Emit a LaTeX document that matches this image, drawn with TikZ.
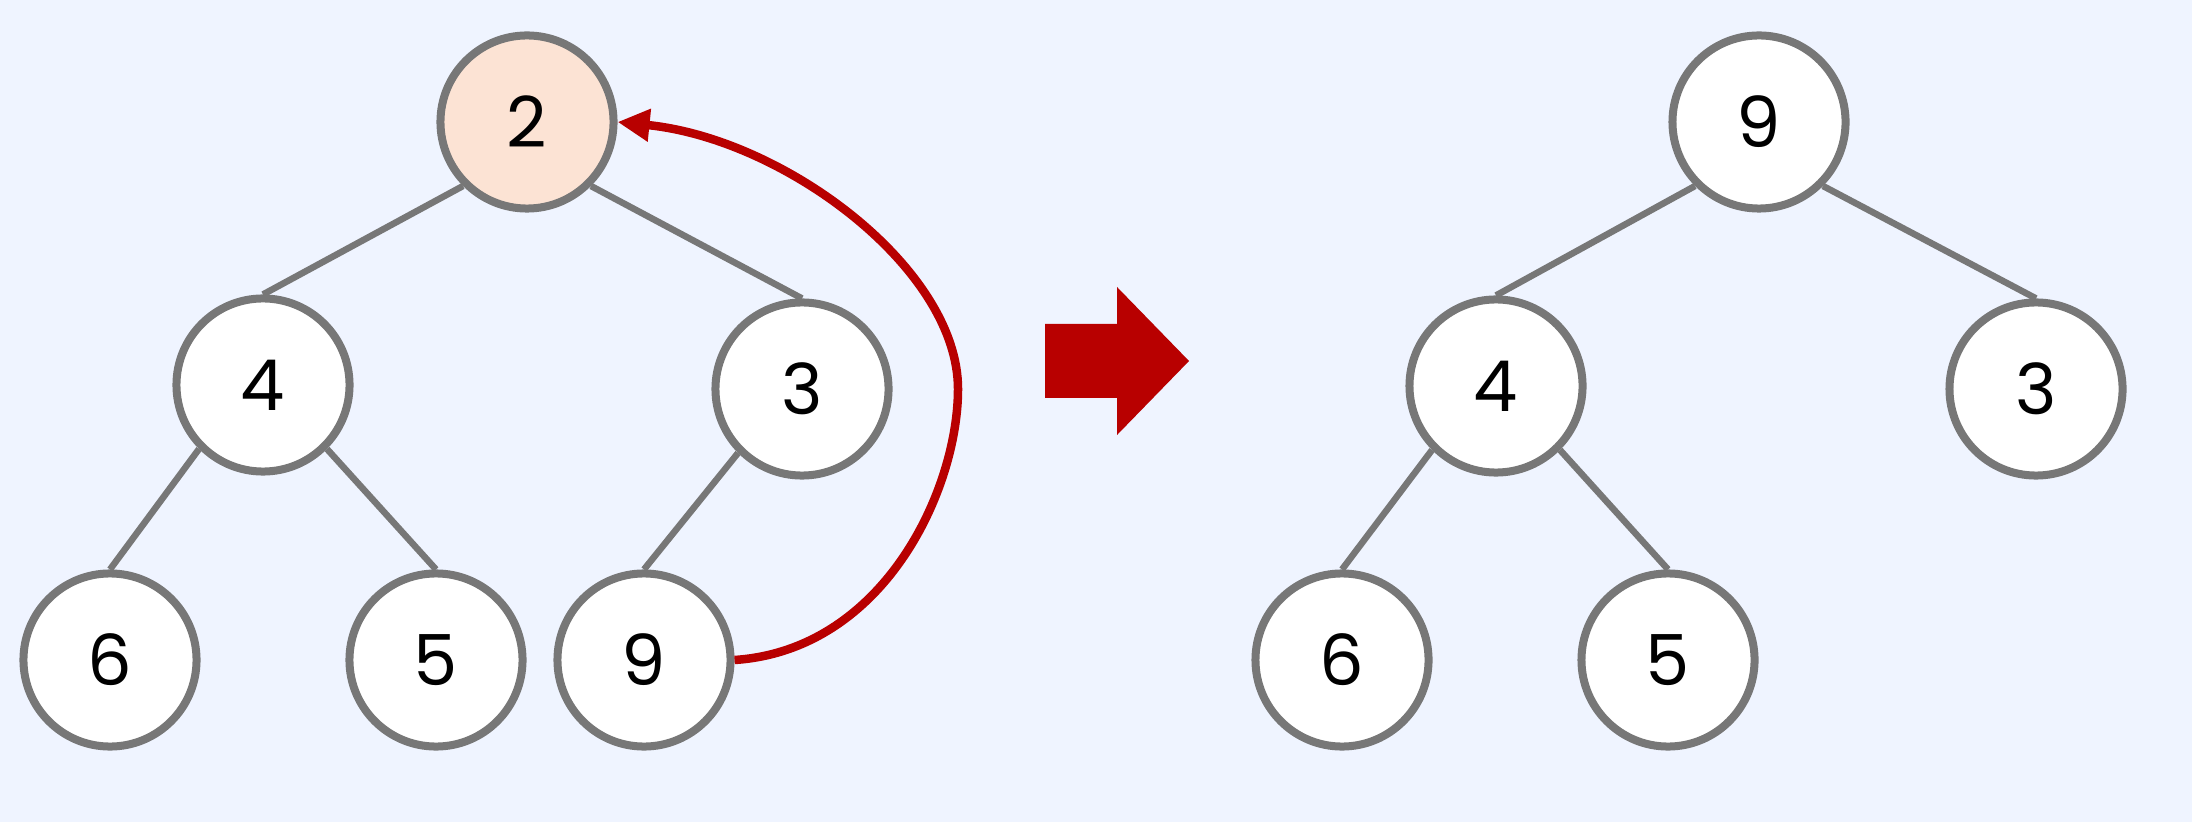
\documentclass[tikz,border=0pt]{standalone}
\usepackage{fontspec}
\setmainfont{Poppins}
\usepackage{xcolor}
\usetikzlibrary{positioning,arrows.meta}
\definecolor{bgblue}{HTML}{EFF4FF}
\definecolor{ringgray}{HTML}{777777}
\definecolor{swapred}{HTML}{B80000}
\definecolor{peach}{HTML}{FCE3D4}

\begin{document}
\begin{tikzpicture}[x=0.01cm,y=-0.01cm,
            heapnode/.style={circle,draw=ringgray,fill=white,line width=0.08cm,minimum size=1.73cm,inner sep=0pt,font=\fontsize{20}{24}\selectfont},
            edge/.style={draw=ringgray,line width=0.065cm},
            arrow/.style={-{Triangle[length=0.32cm,width=0.31cm]},draw=swapred,line width=0.085cm}]
            \fill[bgblue] (0,0) rectangle (2192,822);
            \useasboundingbox (0,0) rectangle (2192,822);
            % before
            \node[heapnode,fill=peach] (l2) at (527,122) {2};
            \node[heapnode] (l4) at (263,385) {4};
            \node[heapnode] (l3) at (802,389) {3};
            \node[heapnode] (l6) at (110,660) {6};
            \node[heapnode] (l5) at (436,660) {5};
            \node[heapnode] (l9) at (644,660) {9};
            \draw[edge] (l2.south west)--(l4.north);
            \draw[edge] (l2.south east)--(l3.north);
            \draw[edge] (l4.south west)--(l6.north);
            \draw[edge] (l4.south east)--(l5.north);
            \draw[edge] (l3.south west)--(l9.north);
            \coordinate (bend) at (958,389);
            \draw[arrow] (l9.east) .. controls +(150,-10) and (958,489) .. (bend)
                .. controls (958,269) and (785,139) .. (l2.east);
            % big arrow
            \fill[swapred] (1045,324)--(1117,324)--(1117,287)--(1189,361)--(1117,435)--(1117,398)--(1045,398)--cycle;
            % after
            \node[heapnode] (r9) at (1759,122) {9};
            \node[heapnode] (r4) at (1496,386) {4};
            \node[heapnode] (r3) at (2036,389) {3};
            \node[heapnode] (r6) at (1342,660) {6};
            \node[heapnode] (r5) at (1668,660) {5};
            \draw[edge] (r9.south west)--(r4.north);
            \draw[edge] (r9.south east)--(r3.north);
            \draw[edge] (r4.south west)--(r6.north);
            \draw[edge] (r4.south east)--(r5.north);
        \end{tikzpicture}
\end{document}
